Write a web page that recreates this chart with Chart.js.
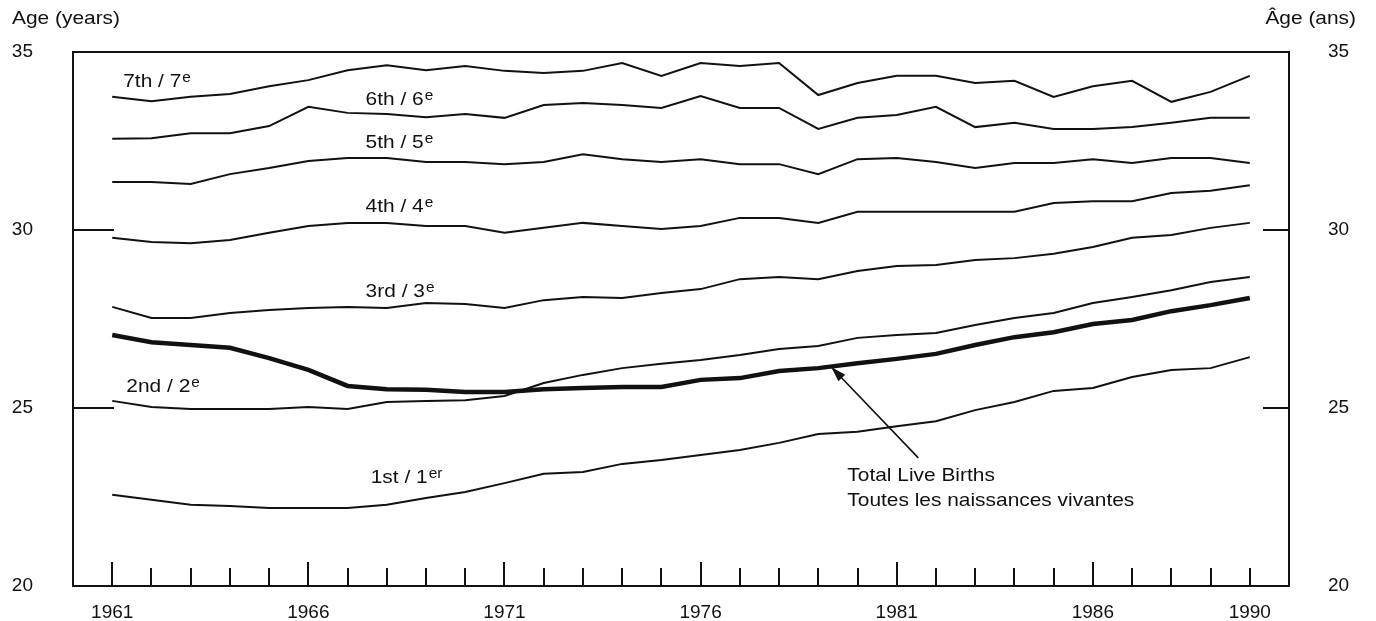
<!DOCTYPE html>
<html>
<head>
<meta charset="utf-8">
<script src="https://cdn.jsdelivr.net/npm/chart.js@4/dist/chart.umd.min.js"></script>
<style>
  html, body { margin: 0; padding: 0; background: #fff; }
</style>
</head>
<body>
<canvas id="age-chart" width="1376" height="621"></canvas>
<script>
// years on the x axis
const years = [1961, 1962, 1963, 1964, 1965, 1966, 1967, 1968, 1969, 1970,
  1971, 1972, 1973, 1974, 1975, 1976, 1977, 1978, 1979, 1980,
  1981, 1982, 1983, 1984, 1985, 1986, 1987, 1988, 1989, 1990];
const yearLabels = [1961, 1966, 1971, 1976, 1981, 1986, 1990];
const ageTicks = [20, 25, 30, 35];

// mean age of mother by birth order
const first = [22.56, 22.42, 22.28, 22.25, 22.19, 22.19, 22.19, 22.28, 22.47, 22.64,
  22.89, 23.15, 23.20, 23.43, 23.54, 23.68, 23.82, 24.02, 24.27, 24.33,
  24.49, 24.63, 24.94, 25.17, 25.48, 25.56, 25.87, 26.07, 26.12, 26.43];
const second = [25.20, 25.03, 24.97, 24.97, 24.97, 25.03, 24.97, 25.17, 25.20, 25.22,
  25.34, 25.70, 25.93, 26.12, 26.24, 26.35, 26.49, 26.66, 26.74, 26.97,
  27.05, 27.11, 27.33, 27.53, 27.67, 27.95, 28.12, 28.31, 28.54, 28.68];
const third = [27.84, 27.53, 27.53, 27.67, 27.75, 27.81, 27.84, 27.81, 27.95, 27.92,
  27.81, 28.03, 28.12, 28.09, 28.23, 28.34, 28.62, 28.68, 28.62, 28.85,
  28.99, 29.02, 29.16, 29.21, 29.33, 29.52, 29.78, 29.86, 30.06, 30.20];
const fourth = [29.78, 29.66, 29.63, 29.72, 29.92, 30.11, 30.20, 30.20, 30.11, 30.11,
  29.92, 30.06, 30.20, 30.11, 30.03, 30.11, 30.34, 30.34, 30.20, 30.51,
  30.51, 30.51, 30.51, 30.51, 30.76, 30.81, 30.81, 31.04, 31.10, 31.26];
const fifth = [31.35, 31.35, 31.29, 31.57, 31.74, 31.94, 32.02, 32.02, 31.91, 31.91,
  31.85, 31.91, 32.13, 31.99, 31.91, 31.99, 31.85, 31.85, 31.57, 31.99,
  32.02, 31.91, 31.74, 31.88, 31.88, 31.99, 31.88, 32.02, 32.02, 31.88];
const sixth = [32.56, 32.58, 32.72, 32.72, 32.92, 33.46, 33.29, 33.26, 33.17, 33.26,
  33.15, 33.51, 33.57, 33.51, 33.43, 33.76, 33.43, 33.43, 32.84, 33.15,
  33.23, 33.46, 32.89, 33.01, 32.84, 32.84, 32.89, 33.01, 33.15, 33.15];
const seventh = [33.74, 33.62, 33.74, 33.82, 34.04, 34.21, 34.49, 34.63, 34.49, 34.61,
  34.47, 34.41, 34.47, 34.69, 34.33, 34.69, 34.61, 34.69, 33.79, 34.13,
  34.33, 34.33, 34.13, 34.19, 33.74, 34.04, 34.19, 33.60, 33.88, 34.33];
const total = [27.05, 26.85, 26.77, 26.69, 26.40, 26.07, 25.62, 25.53, 25.51, 25.45,
  25.45, 25.53, 25.56, 25.59, 25.59, 25.79, 25.84, 26.04, 26.12, 26.26,
  26.38, 26.52, 26.77, 26.99, 27.13, 27.36, 27.47, 27.72, 27.89, 28.09];

// series labels written on the chart (data coordinates)
const seriesNotes = [
  { text: '7th / 7', sup: 'e', year: 1961.28, age: 34.16 },
  { text: '6th / 6', sup: 'e', year: 1967.46, age: 33.65 },
  { text: '5th / 5', sup: 'e', year: 1967.46, age: 32.44 },
  { text: '4th / 4', sup: 'e', year: 1967.46, age: 30.65 },
  { text: '3rd / 3', sup: 'e', year: 1967.46, age: 28.26 },
  { text: '2nd / 2', sup: 'e', year: 1961.36, age: 25.59 },
  { text: '1st / 1', sup: 'er', year: 1967.59, age: 23.03 },
  { text: 'Total Live Births', sup: '', year: 1979.74, age: 23.09 },
  { text: 'Toutes les naissances vivantes', sup: '', year: 1979.74, age: 22.39 }
];
const arrowFrom = { year: 1981.55, age: 23.6 };
const arrowTo = { year: 1979.33, age: 26.15 };

const FONT = '"Liberation Sans", Arial, Helvetica, sans-serif';
const INK = '#111';
const STRETCH = 1.1;

function points(values) {
  return years.map((y, i) => ({ x: y, y: values[i] }));
}

function lineSet(label, values, width) {
  return {
    label: label,
    data: points(values),
    borderColor: INK,
    borderWidth: width,
    pointRadius: 0,
    tension: 0,
    fill: false
  };
}

// stretched text, the original lettering is a bit wider than Arial
function wideText(ctx, text, x, y, size) {
  ctx.save();
  ctx.font = size + 'px ' + FONT;
  ctx.translate(x, y);
  ctx.scale(STRETCH, 1);
  ctx.fillText(text, 0, 0);
  const w = ctx.measureText(text).width * STRETCH;
  ctx.restore();
  return w;
}

// y axes: keep the label offset but drop the padding it adds above/below
function fixAxis(width) {
  return scale => {
    scale.width = width;
    scale.paddingTop = 0;
    scale.paddingBottom = 0;
  };
}

// frame, inward tick marks, titles, labels and arrow
const decorations = {
  id: 'decorations',
  afterDraw(chart) {
    const ctx = chart.ctx;
    const area = chart.chartArea;
    const xs = chart.scales.x;
    const ys = chart.scales.y;
    ctx.save();
    ctx.strokeStyle = INK;
    ctx.fillStyle = INK;
    ctx.lineWidth = 2;
    ctx.strokeRect(area.left, area.top, area.right - area.left, area.bottom - area.top);

    // year ticks pointing up
    ctx.beginPath();
    years.forEach(y => {
      const px = Math.round(xs.getPixelForValue(y));
      const len = (y - 1961) % 5 === 0 ? 24 : 18;
      ctx.moveTo(px, area.bottom);
      ctx.lineTo(px, area.bottom - len);
    });
    // age ticks pointing in
    [25, 30].forEach(a => {
      const py = Math.round(ys.getPixelForValue(a));
      ctx.moveTo(area.left, py);
      ctx.lineTo(area.left + 41, py);
      ctx.moveTo(area.right, py);
      ctx.lineTo(area.right - 26, py);
    });
    ctx.stroke();

    // axis titles
    ctx.textBaseline = 'middle';
    ctx.textAlign = 'left';
    wideText(ctx, 'Age (years)', 12, 19, 19);
    ctx.font = '19px ' + FONT;
    const tw = ctx.measureText('Âge (ans)').width * STRETCH;
    wideText(ctx, 'Âge (ans)', 1356 - tw, 19, 19);

    // series labels
    seriesNotes.forEach(n => {
      const px = xs.getPixelForValue(n.year);
      const py = ys.getPixelForValue(n.age);
      const w = wideText(ctx, n.text, px, py, 19);
      if (n.sup) {
        wideText(ctx, n.sup, px + w + 1, py - 4, 14);
      }
    });

    // arrow to the total line
    const x0 = xs.getPixelForValue(arrowFrom.year);
    const y0 = ys.getPixelForValue(arrowFrom.age);
    const x1 = xs.getPixelForValue(arrowTo.year);
    const y1 = ys.getPixelForValue(arrowTo.age);
    ctx.lineWidth = 1.6;
    ctx.beginPath();
    ctx.moveTo(x0, y0);
    ctx.lineTo(x1, y1);
    ctx.stroke();
    const ang = Math.atan2(y1 - y0, x1 - x0);
    ctx.beginPath();
    ctx.moveTo(x1, y1);
    ctx.lineTo(x1 - 16 * Math.cos(ang - 0.3), y1 - 16 * Math.sin(ang - 0.3));
    ctx.lineTo(x1 - 16 * Math.cos(ang + 0.3), y1 - 16 * Math.sin(ang + 0.3));
    ctx.closePath();
    ctx.fill();
    ctx.restore();
  }
};

const ageChart = new Chart(document.getElementById('age-chart'), {
  type: 'line',
  data: {
    datasets: [
      lineSet('1st', first, 2),
      lineSet('2nd', second, 2),
      lineSet('3rd', third, 2),
      lineSet('4th', fourth, 2),
      lineSet('5th', fifth, 2),
      lineSet('6th', sixth, 2),
      lineSet('7th', seventh, 2),
      lineSet('Total', total, 4.5)
    ]
  },
  options: {
    responsive: false,
    animation: false,
    devicePixelRatio: 1,
    layout: { autoPadding: false, padding: { top: 52, left: 0, right: 0, bottom: 0 } },
    plugins: { legend: { display: false }, tooltip: { enabled: false } },
    scales: {
      x: {
        type: 'linear',
        min: 1960,
        max: 1991,
        grid: { display: false, drawTicks: false },
        border: { display: false },
        afterBuildTicks(scale) { scale.ticks = yearLabels.map(v => ({ value: v })); },
        afterFit(scale) { scale.height = 35; },
        ticks: {
          autoSkip: false,
          maxRotation: 0,
          padding: 15,
          color: INK,
          font: { family: FONT, size: 19 },
          callback: v => String(v)
        }
      },
      y: {
        position: 'left',
        min: 20,
        max: 35,
        grid: { display: false, drawTicks: false },
        border: { display: false },
        afterBuildTicks(scale) { scale.ticks = ageTicks.map(v => ({ value: v })); },
        afterFit: fixAxis(73),
        ticks: { padding: 40, color: INK, font: { family: FONT, size: 19 } }
      },
      y2: {
        position: 'right',
        min: 20,
        max: 35,
        grid: { display: false, drawTicks: false },
        border: { display: false },
        afterBuildTicks(scale) { scale.ticks = ageTicks.map(v => ({ value: v })); },
        afterFit: fixAxis(87),
        ticks: { padding: 39, color: INK, font: { family: FONT, size: 19 } }
      }
    }
  },
  plugins: [decorations]
});
</script>
</body>
</html>
